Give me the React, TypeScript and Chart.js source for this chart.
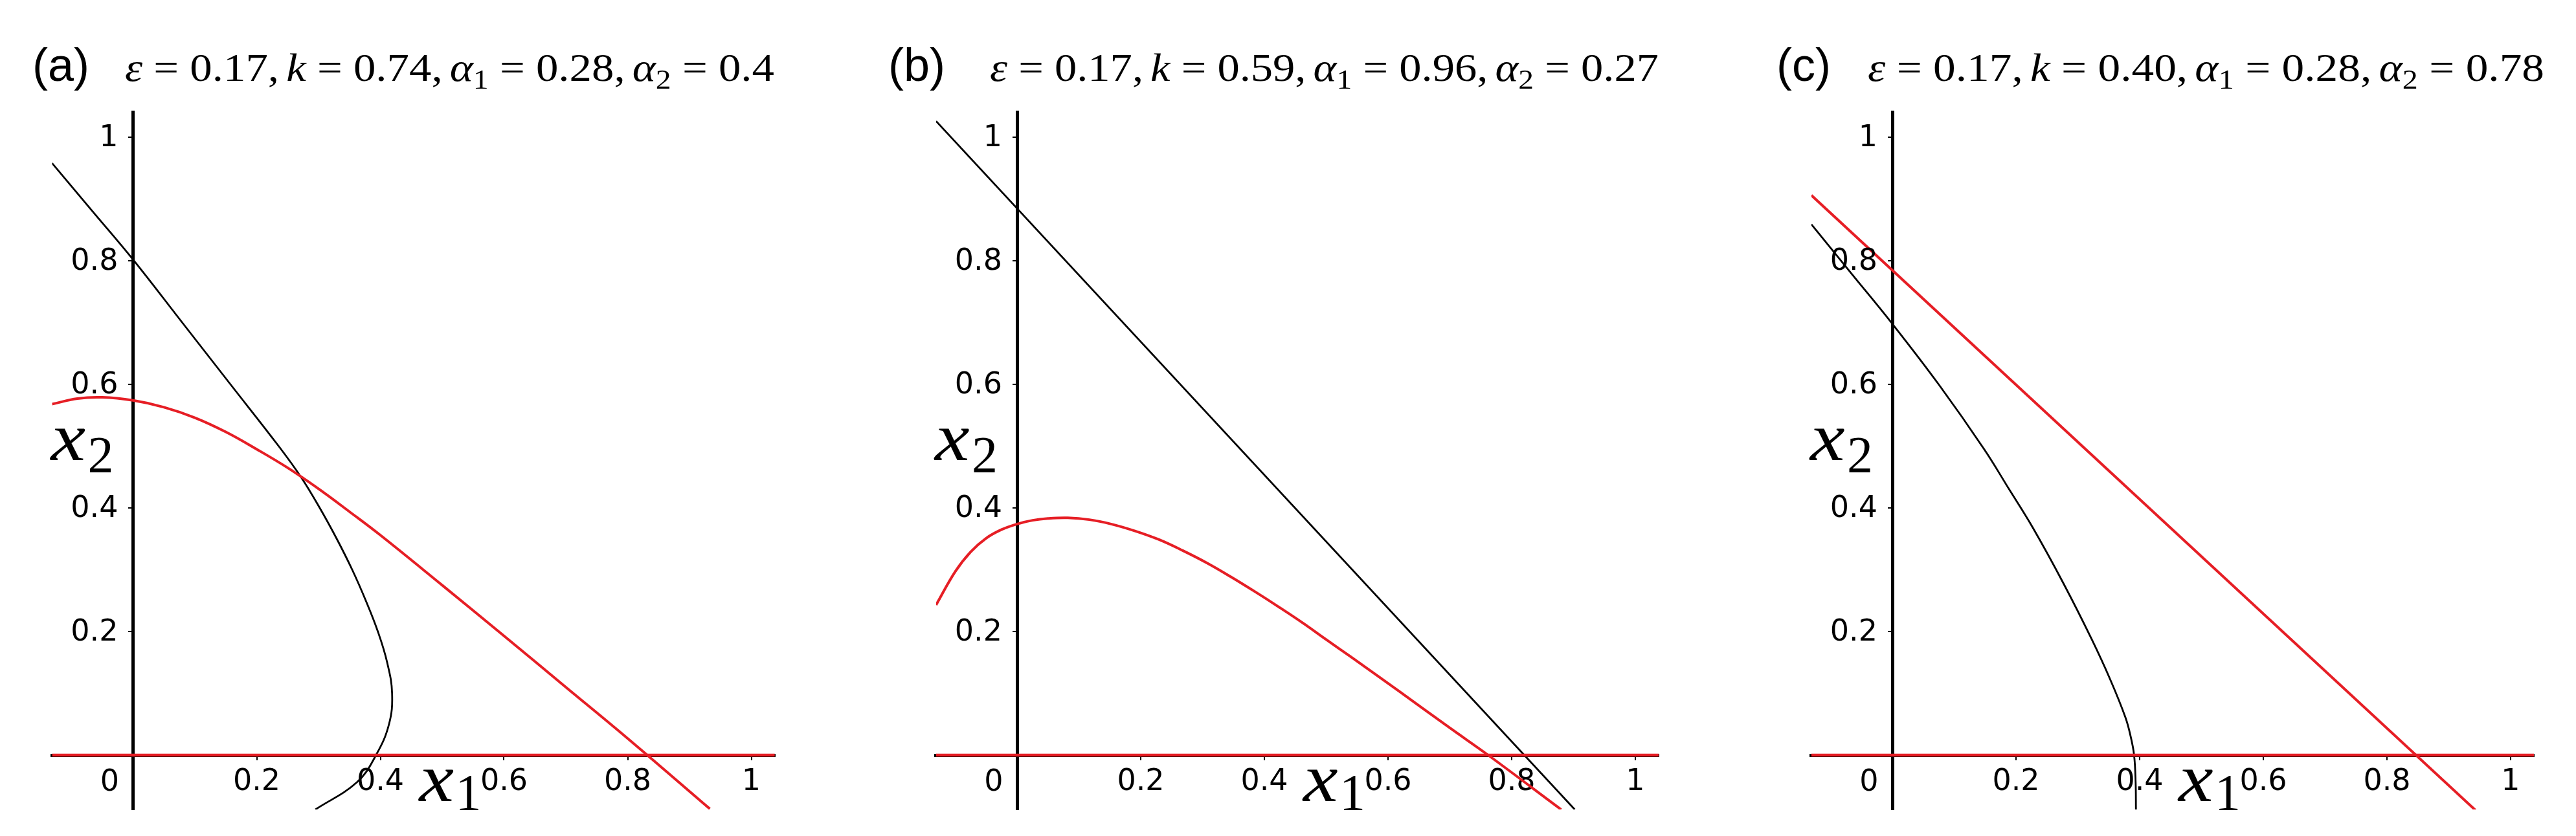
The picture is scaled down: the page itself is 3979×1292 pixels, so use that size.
import React, { useEffect, useRef } from 'react';
import { Chart, registerables } from 'chart.js';

Chart.register(...registerables);

type Pt = [number, number];

// ---------- data ----------
const xTickValues = [0, 0.2, 0.4, 0.6, 0.8, 1];
const xTickLabels = ['0', '0.2', '0.4', '0.6', '0.8', '1'];
const yTickValues = [0.2, 0.4, 0.6, 0.8, 1];
const yTickLabels = ['0.2', '0.4', '0.6', '0.8', '1'];
const xMin = -0.131;
const xMax = 1.038;
const yMin = -0.088;
const yMax = 1.04;

const panelLetters = ['(a)', '(b)', '(c)'];
const epsilonValues = ['0.17', '0.17', '0.17'];
const kValues = ['0.74', '0.59', '0.40'];
const alpha1Values = ['0.28', '0.96', '0.28'];
const alpha2Values = ['0.4', '0.27', '0.78'];

// panel (a)
const blackA: Pt[] = [
  [-0.131, 0.958], [-0.0655, 0.88], [0, 0.802], [0.0796, 0.7], [0.1576, 0.6],
  [0.2356, 0.5], [0.2716, 0.45], [0.302, 0.4], [0.3295, 0.35], [0.3545, 0.3],
  [0.3765, 0.25], [0.396, 0.2], [0.411, 0.15], [0.419, 0.1], [0.414, 0.05],
  [0.393, 0], [0.362, -0.044], [0.295, -0.088],
];
const redA: Pt[] = [
  [-0.131, 0.568], [-0.09, 0.577], [-0.05, 0.579], [0, 0.574], [0.05, 0.563],
  [0.1, 0.546], [0.15, 0.523], [0.2, 0.495], [0.25, 0.465], [0.3, 0.431],
  [0.35, 0.394], [0.4, 0.356], [0.5, 0.275], [0.6, 0.193], [0.7, 0.11],
  [0.8, 0.027], [0.933, -0.087],
];
// panel (b)
const blackB: Pt[] = [[-0.131, 1.026], [0.902, -0.088]];
const redB: Pt[] = [
  [-0.131, 0.243], [-0.1, 0.297], [-0.075, 0.329], [-0.05, 0.351], [-0.025, 0.365],
  [0, 0.374], [0.025, 0.38], [0.05, 0.383], [0.082, 0.384], [0.117, 0.381],
  [0.152, 0.374], [0.19, 0.363], [0.229, 0.349], [0.268, 0.331], [0.307, 0.311],
  [0.345, 0.289], [0.384, 0.265], [0.423, 0.24], [0.462, 0.214], [0.5, 0.187],
  [0.54, 0.159], [0.617, 0.104], [0.7, 0.044], [0.762, 0], [0.88, -0.088],
];
// panel (c)
const blackC: Pt[] = [
  [-0.131, 0.859], [-0.065, 0.778], [0, 0.698], [0.0757, 0.599], [0.1485, 0.495],
  [0.189, 0.43], [0.2272, 0.368], [0.2767, 0.278], [0.3222, 0.188], [0.353, 0.121],
  [0.377, 0.061], [0.3855, 0.03], [0.391, 0], [0.3935, -0.044], [0.394, -0.088],
];
const redC: Pt[] = [[-0.131, 0.906], [0.943, -0.089]];
// red x2 = 0 nullcline (same in every panel)
const redZero: Pt[] = [[-0.131, 0], [1.038, 0]];

const blackCurves = [blackA, blackB, blackC];
const redCurves = [redA, redB, redC];
const blackTension = [0.4, 0, 0.4];
const redTension = [0.4, 0.4, 0];

// ---------- layout (page pixels) ----------
const PAGE_W = 3979;
const PAGE_H = 1292;
const canvasLeft = [0, 1326, 2652];
const canvasWidth = [1326, 1326, 1327];
const yAxisPx = [205.5, 1571, 2923];
const xAxisPx = 1167;
const UNIT = 955;
const letterX = [50, 1372, 2744];
const titleX = [193, 1529, 2885];
const titleW = [1003, 1033, 1045];
const titleBaseline = 125;

const RED = '#e61e25';
const BLACK = '#000000';
const TICK_FONT = 46;

type Part = { t: string; s: 'it' | 'rm' | 'sub'; gap?: number };

function titleParts(i: number): Part[] {
  const thin = 10;
  return [
    { t: 'ε', s: 'it' }, { t: ' = ', s: 'rm' }, { t: epsilonValues[i], s: 'rm' }, { t: ',', s: 'rm', gap: thin },
    { t: 'k', s: 'it' }, { t: ' = ', s: 'rm' }, { t: kValues[i], s: 'rm' }, { t: ',', s: 'rm', gap: thin },
    { t: 'α', s: 'it' }, { t: '1', s: 'sub' }, { t: ' = ', s: 'rm' }, { t: alpha1Values[i], s: 'rm' }, { t: ',', s: 'rm', gap: thin },
    { t: 'α', s: 'it' }, { t: '2', s: 'sub' }, { t: ' = ', s: 'rm' }, { t: alpha2Values[i], s: 'rm' },
  ];
}

function drawMath(ctx: CanvasRenderingContext2D, x: number, baseline: number, targetW: number, parts: Part[]) {
  const fs = 62;
  const fontFor = (s: string) =>
    s === 'it' ? `italic ${fs}px "Liberation Serif"` : s === 'sub' ? `${Math.round(fs * 0.7)}px "Liberation Serif"` : `${fs}px "Liberation Serif"`;
  let w = 0;
  for (const p of parts) {
    ctx.font = fontFor(p.s);
    w += ctx.measureText(p.t).width + (p.gap || 0);
  }
  const sx = targetW / w;
  ctx.save();
  ctx.translate(x, baseline);
  ctx.scale(sx, 1);
  ctx.textAlign = 'left';
  ctx.textBaseline = 'alphabetic';
  let cx = 0;
  for (const p of parts) {
    ctx.font = fontFor(p.s);
    ctx.fillText(p.t, cx, p.s === 'sub' ? 12 : 0);
    cx += ctx.measureText(p.t).width + (p.gap || 0);
  }
  ctx.restore();
}

function drawVar(ctx: CanvasRenderingContext2D, x: number, baseline: number, sub: string, subDx: number, subDy: number) {
  ctx.save();
  ctx.translate(x, baseline);
  ctx.scale(1.14, 1);
  ctx.font = 'italic 106px "Liberation Serif"';
  ctx.fillText('x', 0, 0);
  ctx.restore();
  ctx.font = '80px "Liberation Serif"';
  ctx.fillText(sub, x + subDx, baseline + subDy);
}

function makeTextPlugin(i: number) {
  return {
    id: 'panelText' + i,
    afterDraw(chart: any) {
      const ctx: CanvasRenderingContext2D = chart.ctx;
      const xs = chart.scales.x;
      const ys = chart.scales.y;
      const ox = xs.getPixelForValue(0);
      const oy = ys.getPixelForValue(0);
      ctx.save();
      ctx.fillStyle = BLACK;
      // y tick labels
      ctx.font = `${TICK_FONT}px "DejaVu Sans"`;
      ctx.textAlign = 'right';
      ctx.textBaseline = 'middle';
      yTickValues.forEach((v, k) => {
        ctx.fillText(yTickLabels[k], ox - 23, ys.getPixelForValue(v) + 2);
      });
      // origin label
      ctx.textAlign = 'center';
      ctx.fillText(xTickLabels[0], ox - 36, oy + 43);
      // axis labels
      ctx.textAlign = 'left';
      ctx.textBaseline = 'alphabetic';
      drawVar(ctx, ox - 127, oy - 456, '2', 57, 19);
      drawVar(ctx, ox + 442, oy + 71, '1', 56, 14);
      // panel letter
      const cl = canvasLeft[i];
      ctx.font = '72px "Liberation Sans"';
      ctx.fillText(panelLetters[i], letterX[i] - cl, titleBaseline);
      // title
      drawMath(ctx, titleX[i] - cl, titleBaseline, titleW[i], titleParts(i));
      ctx.restore();
    },
  };
}

function lineDs(pts: Pt[], color: string, width: number, tension: number) {
  return {
    data: pts.map(([x, y]) => ({ x, y })),
    borderColor: color,
    backgroundColor: color,
    borderWidth: width,
    pointRadius: 0,
    pointHoverRadius: 0,
    fill: false,
    tension,
    clip: 0,
    borderCapStyle: 'butt' as const,
  };
}

function Panel({ index }: { index: number }) {
  const ref = useRef<HTMLCanvasElement | null>(null);
  useEffect(() => {
    const canvas = ref.current;
    if (!canvas) return;
    const cl = canvasLeft[index];
    const cw = canvasWidth[index];
    const padLeft = yAxisPx[index] + xMin * UNIT - cl;
    const padRight = cl + cw - (yAxisPx[index] + xMax * UNIT);
    const padTop = xAxisPx - yMax * UNIT;
    const padBottom = PAGE_H - (xAxisPx - yMin * UNIT);
    const tickGrid = {
      display: true,
      drawOnChartArea: false,
      drawTicks: true,
      tickLength: 5,
      tickWidth: 2,
      tickColor: BLACK,
      lineWidth: 2,
      color: BLACK,
    };
    const chart = new Chart(canvas, {
      type: 'line',
      data: {
        datasets: [
          lineDs(redZero, RED, 4.5, 0),
          lineDs(redCurves[index], RED, 4, redTension[index]),
          lineDs(blackCurves[index], BLACK, 2.8, blackTension[index]),
        ],
      },
      options: {
        responsive: false,
        animation: false,
        devicePixelRatio: 1,
        events: [],
        layout: {
          autoPadding: false,
          padding: { left: padLeft, right: padRight, top: padTop, bottom: padBottom },
        },
        plugins: {
          legend: { display: false },
          tooltip: { enabled: false },
          title: { display: false },
        },
        scales: {
          x: {
            type: 'linear',
            min: xMin,
            max: xMax,
            position: { y: 0 },
            afterBuildTicks: (s: any) => {
              s.ticks = xTickValues.map((v) => ({ value: v }));
            },
            afterFit: (s: any) => {
              s.height = 0;
              s.paddingLeft = 0;
              s.paddingRight = 0;
              s.paddingTop = 0;
              s.paddingBottom = 0;
            },
            grid: tickGrid,
            border: { display: true, color: BLACK, width: 5 },
            ticks: {
              color: BLACK,
              autoSkip: false,
              maxRotation: 0,
              minRotation: 0,
              padding: 14,
              font: { family: 'DejaVu Sans', size: TICK_FONT, lineHeight: 1 },
              callback: (v: any) => {
                const k = xTickValues.indexOf(Number(v));
                return k <= 0 ? '' : xTickLabels[k];
              },
            },
          },
          y: {
            type: 'linear',
            min: yMin,
            max: yMax,
            position: { x: 0 },
            afterBuildTicks: (s: any) => {
              s.ticks = yTickValues.map((v) => ({ value: v }));
            },
            afterFit: (s: any) => {
              s.width = 0;
              s.paddingLeft = 0;
              s.paddingRight = 0;
              s.paddingTop = 0;
              s.paddingBottom = 0;
            },
            grid: tickGrid,
            border: { display: true, color: BLACK, width: 5 },
            ticks: { display: false },
          },
        },
      } as any,
      plugins: [makeTextPlugin(index)],
    });
    return () => chart.destroy();
  }, [index]);
  return (
    <canvas
      ref={ref}
      width={canvasWidth[index]}
      height={PAGE_H}
      style={{ position: 'absolute', left: canvasLeft[index], top: 0, width: canvasWidth[index], height: PAGE_H, display: 'block' }}
    />
  );
}

export default function App() {
  return (
    <div style={{ position: 'absolute', left: 0, top: 0, width: PAGE_W, height: PAGE_H, background: '#ffffff', overflow: 'hidden' }}>
      {[0, 1, 2].map((i) => (
        <Panel key={i} index={i} />
      ))}
    </div>
  );
}
